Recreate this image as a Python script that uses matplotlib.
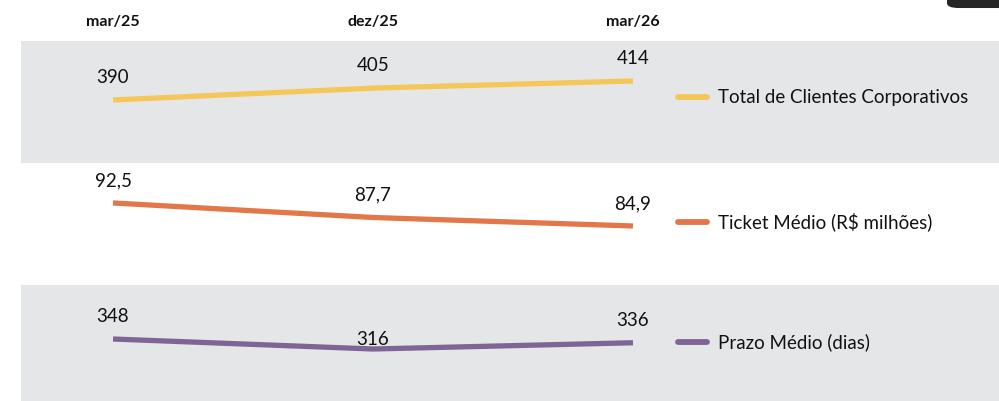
import matplotlib
matplotlib.use("Agg")
from matplotlib import pyplot as plt
from matplotlib import transforms
from matplotlib.patches import FancyBboxPatch

periods = ["mar/25", "dez/25", "mar/26"]

clientes = [390, 405, 414]
ticket = [92.5, 87.7, 84.9]
prazo = [348, 316, 336]

series_names = ["Total de Clientes Corporativos", "Ticket Médio (R$ milhões)", "Prazo Médio (dias)"]

plt.rcParams['font.family'] = ['Lato', 'DejaVu Sans']

fig = plt.figure(figsize=(9.99, 4.01), dpi=100)
W, H = 999, 401


def band(top, bottom, color):
    ax = fig.add_axes([21 / W, 1 - bottom / H, 978 / W, (bottom - top) / H])
    ax.set_facecolor(color)
    for s in ax.spines.values():
        s.set_visible(False)
    ax.set_xticks([])
    ax.set_yticks([])
    ax.set_xlim(-0.354, 3.408)
    return ax


def fmt_br(v, dec):
    if dec == 0:
        return f"{v:.0f}"
    return f"{v:.{dec}f}".replace(".", ",")


def draw(ax, values, name, color, ylim, dec, offsets, leg_y):
    x = list(range(len(values)))
    ax.set_ylim(*ylim)
    ax.plot(x, values, color=color, lw=3.8, solid_capstyle='butt', solid_joinstyle='round')
    for xi, v, off in zip(x, values, offsets):
        ax.annotate(fmt_br(v, dec), (xi, v), xytext=(0, off), textcoords='offset points',
                    ha='center', va='center', fontsize=13.5, color='#111111')
    ax.plot([0.672, 0.701], [leg_y, leg_y], transform=ax.transAxes, color=color,
            lw=4.2, solid_capstyle='round', clip_on=False)
    ax.text(0.713, leg_y, name, transform=ax.transAxes, ha='left', va='center',
            fontsize=13.5, color='#111111')


ax1 = band(41, 163, '#e5e6e8')
ax2 = band(163, 285, 'white')
ax3 = band(285, 401, '#e5e6e8')

draw(ax1, clientes, series_names[0], '#f5c75a', (310.4, 464.5), 0, [16, 16, 16], 0.54)
draw(ax2, ticket, series_names[1], '#e2784a', (65.4, 105.7), 1, [16, 16, 16], 0.52)
draw(ax3, prazo, series_names[2], '#7f6496', (149.6, 520.8), 0, [16, 7, 16], 0.51)

# period headers
tr = transforms.blended_transform_factory(ax1.transData, fig.transFigure)
for i, p in enumerate(periods):
    fig.text(i, 1 - 22 / H, p, transform=tr, ha='center', va='center',
             fontsize=11.5, fontweight='bold', color='#111111')

# dark tab in the corner
fig.patches.append(FancyBboxPatch((947 / W, 0.98), 0.1, 0.05, boxstyle="round,pad=0,rounding_size=0.012",
                                  transform=fig.transFigure, facecolor='#262626', edgecolor='none'))

fig.savefig("out.png", dpi=100)
